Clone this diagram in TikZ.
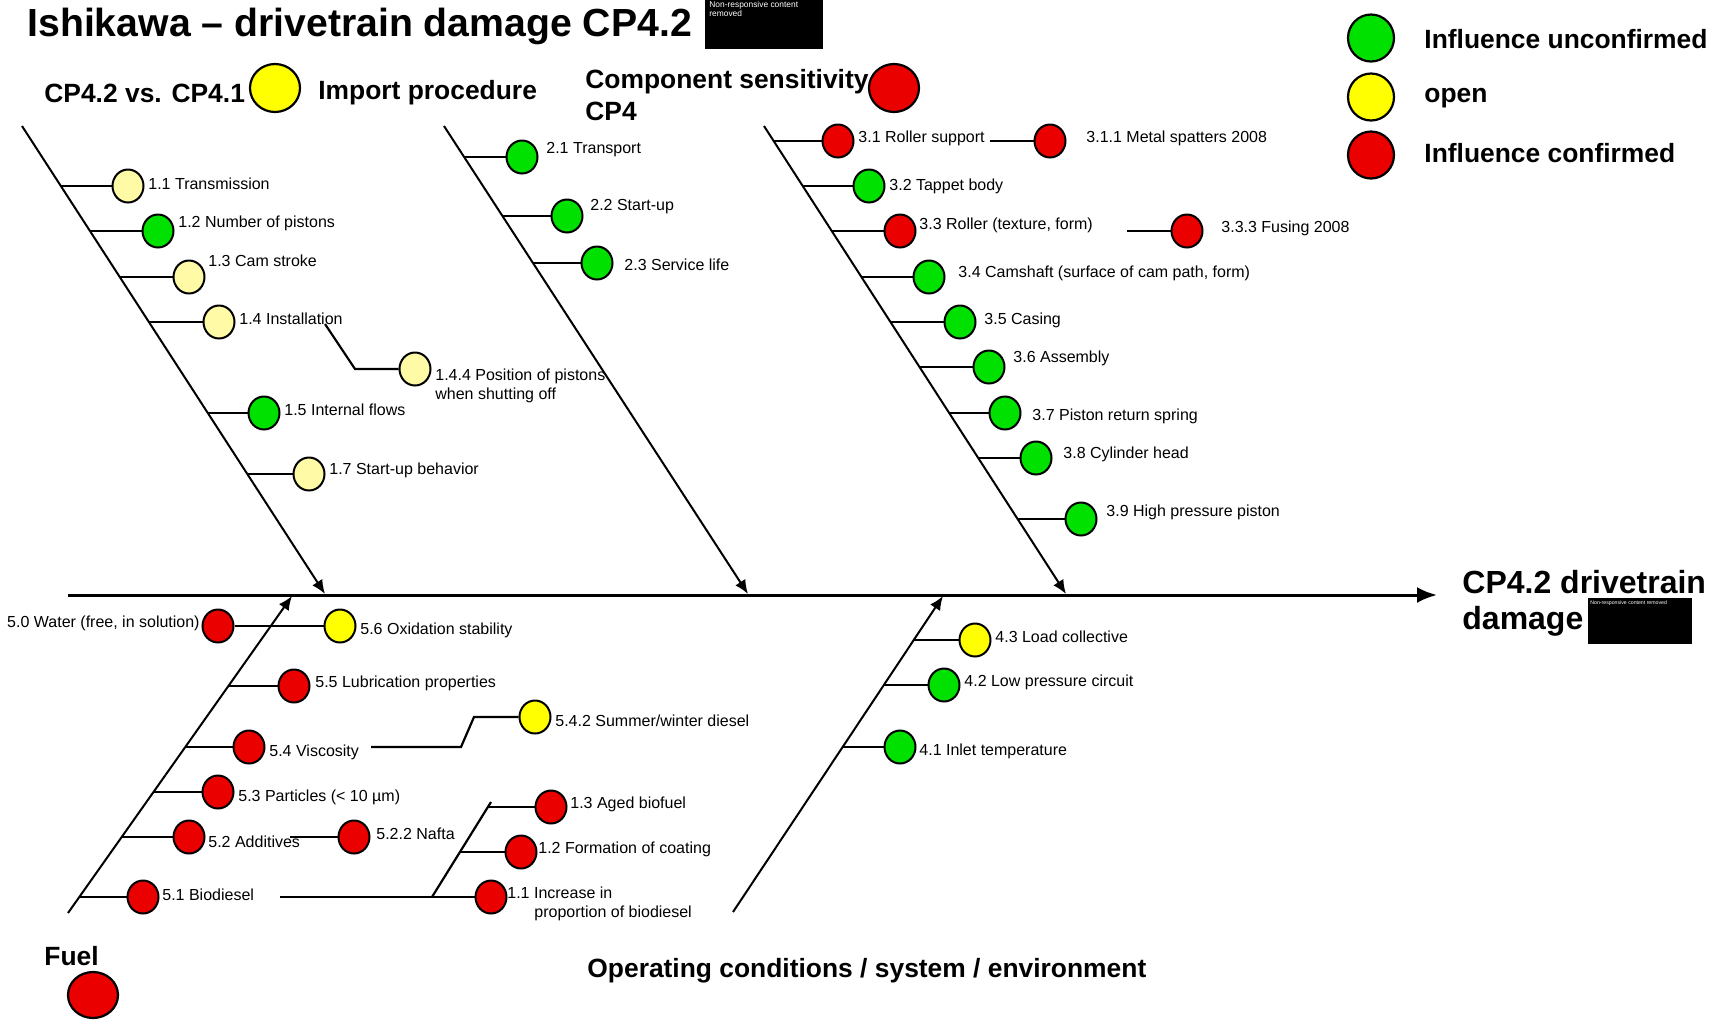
\documentclass[tikz,border=0pt]{standalone}
\usepackage{fontspec}
\setmainfont{Liberation Sans}
\usetikzlibrary{shapes.geometric,arrows.meta}
\definecolor{okgreen}{RGB}{0,225,0}
\definecolor{openyellow}{RGB}{255,255,0}
\definecolor{paleyellow}{RGB}{255,250,165}
\definecolor{badred}{RGB}{235,0,0}

\begin{document}
\begin{tikzpicture}[x=0.5pt,y=-0.5pt,
  dot/.style={ellipse,draw,line width=1pt,inner sep=0pt,minimum width=15.5pt,minimum height=16.5pt},
  dotg/.style={dot,fill=okgreen},
  doty/.style={dot,fill=openyellow},
  dotp/.style={dot,fill=paleyellow},
  dotr/.style={dot,fill=badred},
  bigdot/.style={ellipse,draw,line width=1.1pt,inner sep=0pt,minimum width=25pt,minimum height=24pt},
  keydot/.style={ellipse,draw,line width=1.1pt,inner sep=0pt,minimum width=23pt,minimum height=23.5pt},
  lab/.style={anchor=west,inner sep=0pt,font=\fontsize{8}{9.6}\selectfont,align=left},
  head/.style={anchor=west,inner sep=0pt,font=\bfseries\fontsize{13.2}{16}\selectfont},
  bone/.style={line width=1pt,-{Latex[length=7pt,width=6pt]}},
  tick/.style={line width=1.1pt},
  spine/.style={line width=1.5pt,-{Latex[length=10pt,width=8pt]}},
  redact/.style={fill=black,inner sep=0pt,anchor=north west}
]
\fill[white] (0,0) rectangle (1720,1024);
\useasboundingbox (0,0) rectangle (1720,1024);

% ---------- title ----------
\node[anchor=base west,inner sep=0pt,font=\bfseries\fontsize{19.6}{24}\selectfont] (title) at (27,36) {Ishikawa – drivetrain damage CP4.2};
\node[redact,minimum width=59pt,minimum height=24.5pt] (box1) at (705,0) {};
\node[anchor=north west,inner sep=0pt,text=white,font=\fontsize{4.2}{4.6}\selectfont,align=left] (box1txt) at (709,1) {Non-responsive content\\removed};

% ---------- legend ----------
\node[keydot,fill=okgreen] (k1) at (1371,38) {};
\node[keydot,fill=openyellow] (k2) at (1371,97) {};
\node[keydot,fill=badred] (k3) at (1371,155) {};
\node[head] (k1t) at (1424,39) {Influence unconfirmed};
\node[head] (k2t) at (1424,98) {open};
\node[head] (k3t) at (1424,153) {Influence confirmed};

% ---------- category headings ----------
\node[head] (h1a) at (44,93) {CP4.2 vs. CP4.1};
\node[bigdot,fill=openyellow] (h1c) at (275,88) {};
\node[head] (h1b) at (318,93) {Import procedure};
\node[head,align=left] (h3) at (585,95) {Component sensitivity\\CP4};
\node[bigdot,fill=badred] (h3c) at (894,88) {};
\node[head] (h5) at (44,956) {Fuel};
\node[bigdot,fill=badred,minimum height=23pt] (h5c) at (93,995) {};
\node[head] (h4) at (587,971) {Operating conditions / system / environment};

% ---------- spine and effect ----------
\coordinate (sp0) at (68,595);
\coordinate (sp1) at (1437,595);
\draw[spine] (sp0) -- (sp1);
\node[anchor=west,inner sep=0pt,font=\bfseries\fontsize{16}{19}\selectfont] (eff1) at (1462,582) {CP4.2 drivetrain};
\node[anchor=west,inner sep=0pt,font=\bfseries\fontsize{16}{19}\selectfont] (eff2) at (1462,621) {damage};
\node[redact,minimum width=52pt,minimum height=23pt] (box2) at (1588,598) {};
\node[anchor=north west,inner sep=0pt,text=white,font=\fontsize{2.6}{3}\selectfont] (box2txt) at (1590,600) {Non-responsive content removed};

% ---------- main bones ----------
\coordinate (b1s) at (22,126);   \coordinate (b1e) at (325,594);
\coordinate (b2s) at (444,126);  \coordinate (b2e) at (748,594);
\coordinate (b3s) at (764,126);  \coordinate (b3e) at (1066,594);
\coordinate (b5s) at (68,913);   \coordinate (b5e) at (292,596);
\coordinate (b4s) at (733,912);  \coordinate (b4e) at (943,596);
\draw[bone] (b1s) -- (b1e);
\draw[bone] (b2s) -- (b2e);
\draw[bone] (b3s) -- (b3e);
\draw[bone] (b5s) -- (b5e);
\draw[bone] (b4s) -- (b4e);

% ---------- bone 1: CP4.2 vs. CP4.1 / import procedure ----------
\node[dotp] (c11) at (128,186) {};  \node[lab] (l11) at (148,184) {1.1 Transmission};
\node[dotg] (c12) at (158,231) {};  \node[lab] (l12) at (178,223) {1.2 Number of pistons};
\node[dotp] (c13) at (189,277) {};  \node[lab] (l13) at (208,261) {1.3 Cam stroke};
\node[dotp] (c14) at (219,322) {};  \node[lab] (l14) at (239,319) {1.4 Installation};
\node[dotp] (c144) at (415,369) {}; \node[lab] (l144) at (435,386) {1.4.4 Position of pistons\\when shutting off};
\node[dotg] (c15) at (264,413) {};  \node[lab] (l15) at (284,410) {1.5 Internal flows};
\node[dotp] (c17) at (309,474) {};  \node[lab] (l17) at (329,470) {1.7 Start-up behavior};
\coordinate (t11) at (61,186);
\coordinate (t12) at (90,231);
\coordinate (t13) at (119.5,277);
\coordinate (t14) at (148.6,322);
\coordinate (t15) at (207.4,413);
\coordinate (t17) at (246.8,474);
\foreach \n in {11,12,13,14,15,17} \draw[tick] (t\n) -- (c\n);
\coordinate (s1) at (325,324);
\coordinate (s2) at (355,369);
\draw[tick] (s1) -- (s2) -- (c144);

% ---------- bone 2 ----------
\node[dotg] (c21) at (522,157) {};  \node[lab] (l21) at (546,150) {2.1 Transport};
\node[dotg] (c22) at (567,216) {};  \node[lab] (l22) at (590,207) {2.2 Start-up};
\node[dotg] (c23) at (597,263) {};  \node[lab] (l23) at (624,265) {2.3 Service life};
\coordinate (t21) at (464,157);
\coordinate (t22) at (502,216);
\coordinate (t23) at (533,263);
\foreach \n in {21,22,23} \draw[tick] (t\n) -- (c\n);

% ---------- bone 3: component sensitivity ----------
\node[dotr] (c31) at (838,141) {};  \node[lab] (l31) at (858,138) {3.1 Roller support};
\node[dotr] (c311) at (1050,141) {}; \node[lab] (l311) at (1086,138) {3.1.1 Metal spatters 2008};
\node[dotg] (c32) at (869,186) {};  \node[lab] (l32) at (889,186) {3.2 Tappet body};
\node[dotr] (c33) at (900,231) {};  \node[lab] (l33) at (919,225) {3.3 Roller (texture, form)};
\node[dotr] (c333) at (1187,231) {}; \node[lab] (l333) at (1221,228) {3.3.3 Fusing 2008};
\node[dotg] (c34) at (929,277) {};  \node[lab] (l34) at (958,273) {3.4 Camshaft (surface of cam path, form)};
\node[dotg] (c35) at (960,322) {};  \node[lab] (l35) at (984,320) {3.5 Casing};
\node[dotg] (c36) at (989,367) {};  \node[lab] (l36) at (1013,358) {3.6 Assembly};
\node[dotg] (c37) at (1005,413) {}; \node[lab] (l37) at (1032,416) {3.7 Piston return spring};
\node[dotg] (c38) at (1036,458) {}; \node[lab] (l38) at (1063,454) {3.8 Cylinder head};
\node[dotg] (c39) at (1081,519) {}; \node[lab] (l39) at (1106,512) {3.9 High pressure piston};
\coordinate (t31) at (773,141);
\coordinate (t32) at (802.6,186);
\coordinate (t33) at (831.6,231);
\coordinate (t34) at (861.2,277);
\coordinate (t35) at (890.2,322);
\coordinate (t36) at (919.2,367);
\coordinate (t37) at (948.8,413);
\coordinate (t38) at (977.8,458);
\coordinate (t39) at (1017,519);
\foreach \n in {31,32,33,34,35,36,37,38,39} \draw[tick] (t\n) -- (c\n);
\coordinate (m1) at (990,141);
\draw[tick] (m1) -- (c311);
\coordinate (f1) at (1127,231);
\draw[tick] (f1) -- (c333);

% ---------- bone 5: fuel ----------
\node[dotr] (c50) at (218,626) {};  \node[lab,anchor=east] (l50) at (200,623) {5.0 Water (free, in solution)};
\node[doty] (c56) at (340,626) {};  \node[lab] (l56) at (360,630) {5.6 Oxidation stability};
\node[dotr] (c55) at (294,686) {};  \node[lab] (l55) at (315,683) {5.5 Lubrication properties};
\node[dotr] (c54) at (249,747) {};  \node[lab] (l54) at (269,752) {5.4 Viscosity};
\node[doty] (c542) at (535,717) {}; \node[lab] (l542) at (555,721) {5.4.2 Summer/winter diesel};
\node[dotr] (c53) at (218,792) {};  \node[lab] (l53) at (238,797) {5.3 Particles (< 10 µm)};
\node[dotr] (c52) at (189,837) {};  \node[lab] (l52) at (208,842) {5.2 Additives};
\node[dotr] (c522) at (354,837) {}; \node[lab] (l522) at (376,834) {5.2.2 Nafta};
\node[dotr] (c51) at (143,897) {};  \node[lab] (l51) at (162,895) {5.1 Biodiesel};
\node[dotr] (c11b) at (491,897) {}; \node[lab] (l11b) at (507,904) {1.1 Increase in\\\hspace*{13.5pt}proportion of biodiesel};
\node[dotr] (c13b) at (551,807) {}; \node[lab] (l13b) at (570,804) {1.3 Aged biofuel};
\node[dotr] (c12b) at (521,852) {}; \node[lab] (l12b) at (538,849) {1.2 Formation of coating};
\draw[tick] (c50) -- (c56);
\coordinate (t55) at (228,686);
\coordinate (t54) at (185,747);
\coordinate (t53) at (153,792);
\coordinate (t52) at (121.5,837);
\coordinate (t51) at (79,897);
\foreach \n in {55,54,53,52,51} \draw[tick] (t\n) -- (c\n);
\coordinate (v1) at (371,747);
\coordinate (v2) at (461,747);
\coordinate (v3) at (474,717);
\draw[tick] (v1) -- (v2) -- (v3) -- (c542);
\coordinate (a1) at (290,837);
\draw[tick] (a1) -- (c522);
\coordinate (d1) at (280,897);
\coordinate (d2) at (432,897);
\coordinate (d3) at (491,802);
\coordinate (d4) at (488,807);
\coordinate (d5) at (459,852);
\draw[tick] (d1) -- (d2) -- (c11b);
\draw[tick] (d2) -- (d3);
\draw[tick] (d4) -- (c13b);
\draw[tick] (d5) -- (c12b);

% ---------- bone 4: operating conditions ----------
\node[doty] (c43) at (975,640) {};  \node[lab] (l43) at (995,637) {4.3 Load collective};
\node[dotg] (c42) at (944,685) {};  \node[lab] (l42) at (964,682) {4.2 Low pressure circuit};
\node[dotg] (c41) at (900,747) {};  \node[lab] (l41) at (919,751) {4.1 Inlet temperature};
\coordinate (t43) at (913,640);
\coordinate (t42) at (883,685);
\coordinate (t41) at (842,747);
\foreach \n in {43,42,41} \draw[tick] (t\n) -- (c\n);
\end{tikzpicture}
\end{document}
